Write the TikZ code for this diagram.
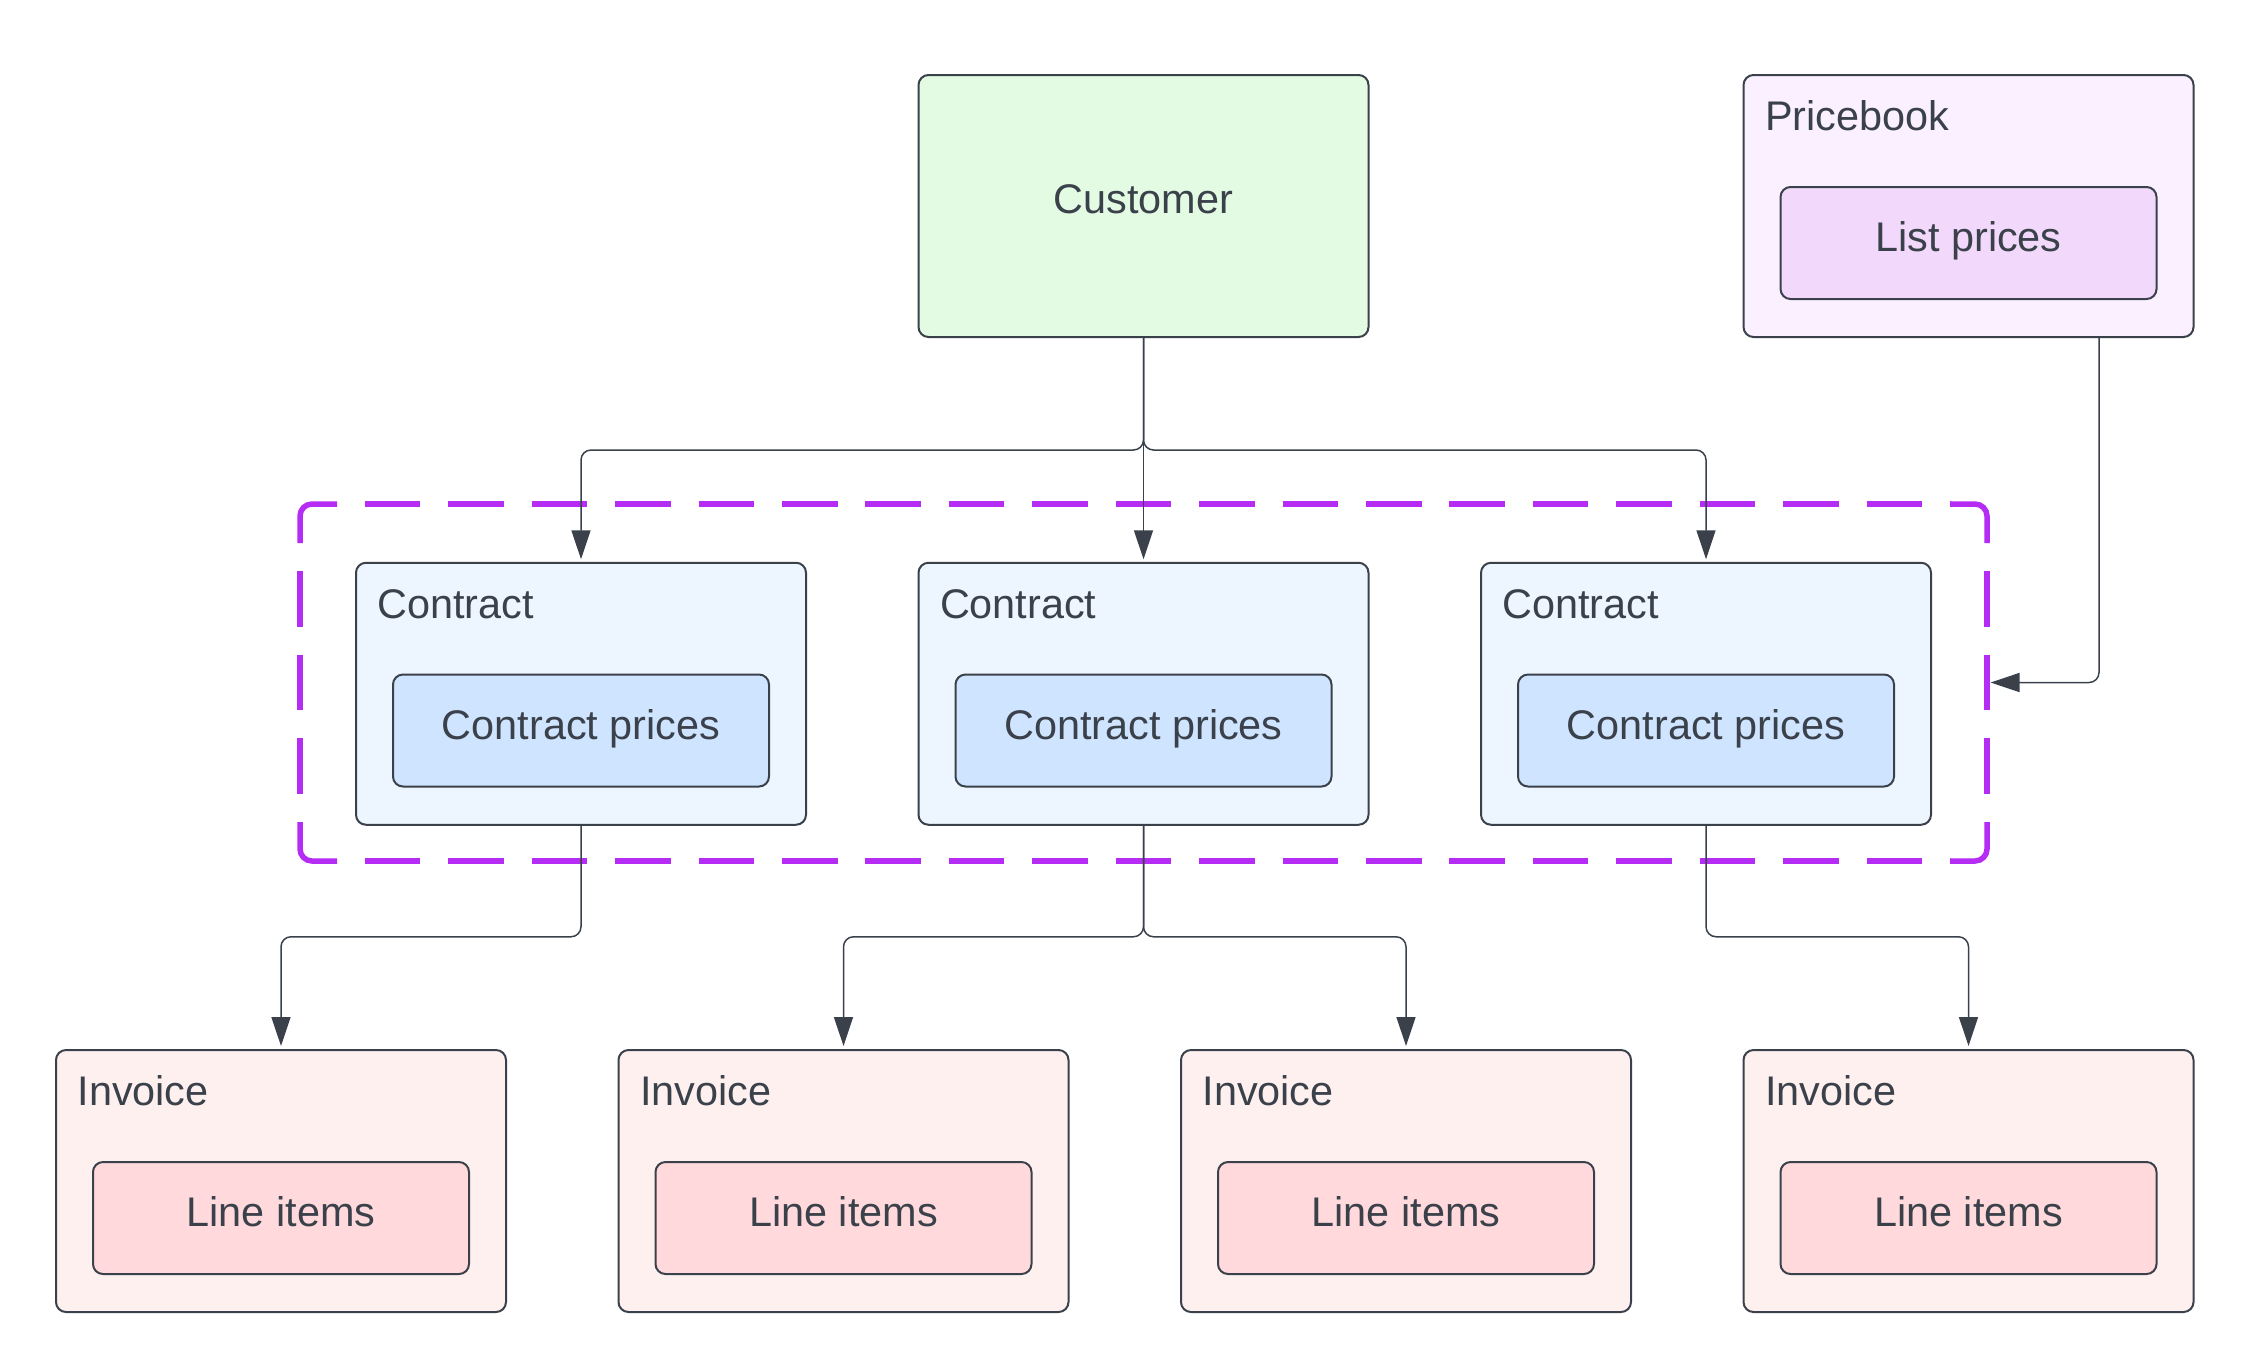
\documentclass[tikz,border=0pt]{standalone}
\usepackage{fontspec}
\setmainfont{Liberation Sans}
\usetikzlibrary{arrows.meta,calc}
\definecolor{ink}{HTML}{3A414A}
\definecolor{custfill}{HTML}{E3FAE3}
\definecolor{pbfill}{HTML}{FBF0FF}
\definecolor{lpfill}{HTML}{F2D9FC}
\definecolor{ctfill}{HTML}{EDF5FF}
\definecolor{cpfill}{HTML}{CFE4FF}
\definecolor{invfill}{HTML}{FFF0F0}
\definecolor{lifill}{HTML}{FFD9DB}
\definecolor{grpline}{HTML}{B52CF4}
\tikzset{
  outerbox/.style={draw=ink, line width=2pt, rounded corners=10pt, minimum width=450pt, minimum height=262pt, inner sep=0pt, outer sep=0pt},
  innerbox/.style={draw=ink, line width=2pt, rounded corners=10pt, minimum width=376pt, minimum height=112pt, inner sep=0pt, outer sep=0pt},
  txt/.style={text=ink, inner sep=0pt, outer sep=0pt, font=\fontsize{41.4}{50}\selectfont},
  conn/.style={draw=ink, line width=1.5pt, rounded corners=10pt, -{Triangle[length=29pt,width=19pt]}},
  grparea/.style={minimum width=1687pt, minimum height=357pt, inner sep=0pt, outer sep=0pt},
  grpcorner/.style={draw=grpline, line width=5.5pt, rounded corners=12pt},
  grphside/.style={draw=grpline, line width=5.5pt, dash pattern=on 55.62pt off 27.81pt, dash phase=55.62pt},
  grpvside/.style={draw=grpline, line width=5.5pt, dash pattern=on 55.8pt off 27.9pt, dash phase=55.8pt}
}
\begin{document}
\begin{tikzpicture}[x=1pt,y=-1pt]
\useasboundingbox[fill=white] (0,0) rectangle (2250,1369);

% group (dashed outline)
\node[grparea] (grp) at (1143.5,682.5) {};
\draw[grpcorner] ($(grp.north west)+(0,39)$) -- (grp.north west) -- ($(grp.north west)+(37,0)$);
\draw[grpcorner] ($(grp.north east)+(-37,0)$) -- (grp.north east) -- ($(grp.north east)+(0,39)$);
\draw[grpcorner] ($(grp.south east)+(0,-39)$) -- (grp.south east) -- ($(grp.south east)+(-37,0)$);
\draw[grpcorner] ($(grp.south west)+(37,0)$) -- (grp.south west) -- ($(grp.south west)+(0,-39)$);
\draw[grphside] ($(grp.north west)+(37,0)$) -- ($(grp.north east)+(-37,0)$);
\draw[grphside] ($(grp.south west)+(37,0)$) -- ($(grp.south east)+(-37,0)$);
\draw[grpvside] ($(grp.north west)+(0,39)$) -- ($(grp.south west)+(0,-39)$);
\draw[grpvside] ($(grp.north east)+(0,39)$) -- ($(grp.south east)+(0,-39)$);

% top row
\node[outerbox, fill=custfill] (cust) at (1143.5,206) {};
\node[txt, anchor=base] (custt) at (1143.5,213.3) {Customer};

\node[outerbox, fill=pbfill] (pb) at (1968.5,206) {};
\node[txt, anchor=base west] (pbt) at (1765,130.5) {Pricebook};
\node[innerbox, fill=lpfill] (lp) at (1968.5,243) {};
\node[txt, anchor=base] (lpt) at (1968.5,251.7) {List prices};

% contracts
\foreach \i/\cx in {1/581,2/1143.5,3/1706}{
  \node[outerbox, fill=ctfill] (c\i) at (\cx,693.75) {};
  \node[txt, anchor=base west] (c\i t) at (\cx-203.5,618) {Contract};
  \node[innerbox, fill=cpfill] (cp\i) at (\cx,730.5) {};
  \node[txt, anchor=base] (cp\i t) at (\cx,739.2) {Contract prices};
}

% invoices
\foreach \i/\cx in {1/281,2/843.5,3/1406,4/1968.5}{
  \node[outerbox, fill=invfill] (i\i) at (\cx,1181) {};
  \node[txt, anchor=base west] (i\i t) at (\cx-203.5,1105.5) {Invoice};
  \node[innerbox, fill=lifill] (li\i) at (\cx,1218) {};
  \node[txt, anchor=base] (li\i t) at (\cx,1226.7) {Line items};
}

% connectors from customer
\draw[conn] (cust.south) -- ++(0,113) -| ($(c1.north)+(0,-3.5)$);
\draw[conn] (cust.south) -- ($(c2.north)+(0,-3.5)$);
\draw[conn] (cust.south) -- ++(0,113) -| ($(c3.north)+(0,-3.5)$);

% connectors to invoices
\draw[conn] (c1.south) -- ++(0,112) -| ($(i1.north)+(0,-4)$);
\draw[conn] (c2.south) -- ++(0,112) -| ($(i2.north)+(0,-4)$);
\draw[conn] (c2.south) -- ++(0,112) -| ($(i3.north)+(0,-4)$);
\draw[conn] (c3.south) -- ++(0,112) -| ($(i4.north)+(0,-4)$);

% pricebook to group
\coordinate (pbout) at ($(pb.south)+(130.5,0)$);
\draw[conn] (pbout) |- ($(grp.east)+(3.5,0)$);
\end{tikzpicture}
\end{document}
